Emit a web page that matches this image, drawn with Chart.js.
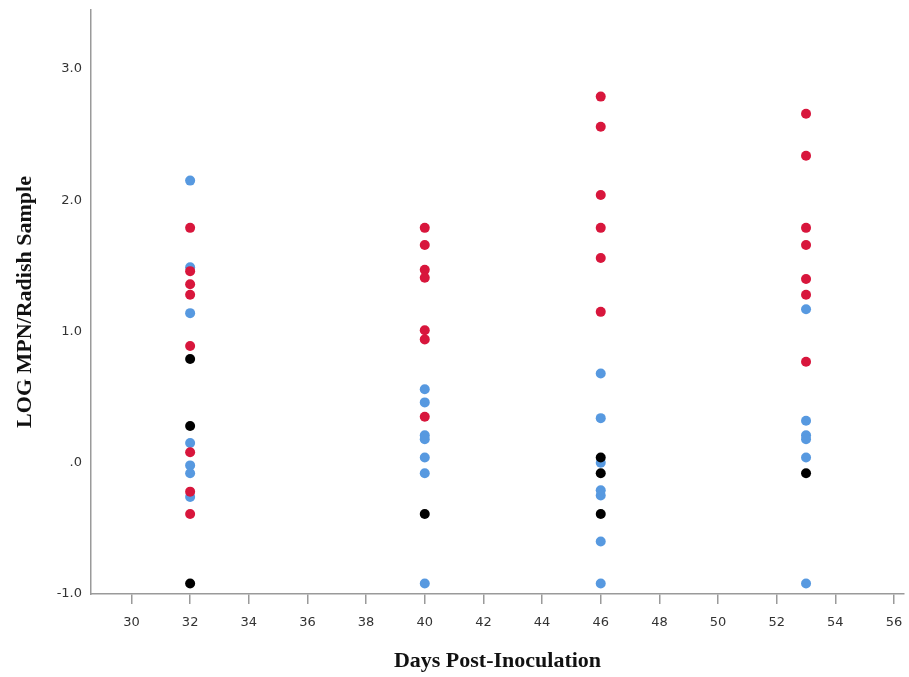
<!DOCTYPE html>
<html>
<head>
<meta charset="utf-8">
<script src="https://cdn.jsdelivr.net/npm/chart.js@4.4.0/dist/chart.umd.min.js"></script>
<style>
    body { margin: 0; background: #fff; }
    #chart-box { width: 909px; height: 677px; }
</style>
</head>
<body>
<div id="chart-box"><canvas id="radish-chart" width="909" height="677"></canvas></div>
<script>
// values
const redDays = [32, 32, 32, 32, 32, 32, 32, 32, 40, 40, 40, 40, 40, 40, 40, 46, 46, 46, 46, 46, 46, 53, 53, 53, 53, 53, 53, 53];
const redLog = [1.79, 1.46, 1.36, 1.28, 0.89, 0.08, -0.22, -0.39, 1.79, 1.66, 1.47, 1.41, 1.01, 0.94, 0.35, 2.79, 2.56, 2.04, 1.79, 1.56, 1.15, 2.66, 2.34, 1.79, 1.66, 1.40, 1.28, 0.77];

const blueDays = [32, 32, 32, 32, 32, 32, 32, 40, 40, 40, 40, 40, 40, 40, 46, 46, 46, 46, 46, 46, 46, 53, 53, 53, 53, 53, 53];
const blueLog = [2.15, 1.49, 1.14, 0.15, -0.02, -0.08, -0.26, 0.56, 0.46, 0.21, 0.18, 0.04, -0.08, -0.92, 0.68, 0.34, 0.00, -0.21, -0.25, -0.60, -0.92, 1.17, 0.32, 0.21, 0.18, 0.04, -0.92];

const blackDays = [32, 32, 32, 40, 46, 46, 46, 53];
const blackLog = [0.79, 0.28, -0.92, -0.39, 0.04, -0.08, -0.39, -0.08];

const xTicks = [30, 32, 34, 36, 38, 40, 42, 44, 46, 48, 50, 52, 54, 56];
const yTicks = [-1, 0, 1, 2, 3];
const yTickLabels = ["-1.0", ".0", "1.0", "2.0", "3.0"];

initRadishChart();

/**
 * Pairs up days and log values into scatter points.
 */
function toPoints(days, values) {
    return days.map((d, i) => ({ x: d, y: values[i] }));
}

function initRadishChart() {
    const axisColor = '#9a9a9a';
    const tickFont = { family: 'DejaVu Sans', size: 13 };
    const titleFont = { family: 'Liberation Serif', size: 22, weight: 'bold' };

    // first dataset is drawn on top
    const datasets = [
        {
            "label": "red",
            "data": toPoints(redDays, redLog),
            "backgroundColor": '#d8163c',
            "pointRadius": 5,
            "pointBorderWidth": 0,
        },
        {
            "label": "black",
            "data": toPoints(blackDays, blackLog),
            "backgroundColor": '#000000',
            "pointRadius": 5,
            "pointBorderWidth": 0,
        },
        {
            "label": "blue",
            "data": toPoints(blueDays, blueLog),
            "backgroundColor": '#5799e0',
            "pointRadius": 5,
            "pointBorderWidth": 0,
        }
    ]

    const context = document.getElementById("radish-chart").getContext('2d');
    const settings = {
        type: 'scatter',
        data: { datasets: datasets },
        options: {
            responsive: false,
            animation: false,
            layout: { padding: { top: 10, right: 1, left: 0, bottom: 0 } },
            plugins: {
                legend: { display: false },
                tooltip: { enabled: false }
            },
            scales: {
                x: {
                    type: 'linear',
                    min: 28.62,
                    max: 56.34,
                    afterBuildTicks: (scale) => { scale.ticks = xTicks.map(v => ({ value: v })); },
                    afterFit: (scale) => {
                        scale.height = 83;
                        scale.paddingLeft = 0;
                        scale.paddingRight = 0;
                    },
                    grid: { display: true, drawOnChartArea: false, tickLength: 10, color: axisColor, lineWidth: 1.5 },
                    border: { display: true, color: axisColor, width: 1.5 },
                    ticks: { font: tickFont, color: '#333', padding: 11, maxRotation: 0, autoSkip: false },
                    title: { display: true, text: 'Days Post-Inoculation', font: titleFont, color: '#111', padding: { top: 0, bottom: 2 } }
                },
                y: {
                    type: 'linear',
                    min: -1.0,
                    max: 3.45,
                    afterBuildTicks: (scale) => { scale.ticks = yTicks.map(v => ({ value: v })); },
                    afterFit: (scale) => {
                        scale.width = 91;
                        scale.paddingTop = 0;
                        scale.paddingBottom = 0;
                    },
                    grid: { display: false, drawTicks: false },
                    border: { display: true, color: axisColor, width: 1.5 },
                    ticks: {
                        font: tickFont,
                        color: '#333',
                        padding: 9,
                        callback: (value) => yTickLabels[yTicks.indexOf(value)]
                    },
                    title: { display: true, text: 'LOG MPN/Radish Sample', font: titleFont, color: '#111', padding: { top: 12, bottom: 0 } }
                }
            }
        }
    }

    new Chart(context, settings);
}
</script>
</body>
</html>
